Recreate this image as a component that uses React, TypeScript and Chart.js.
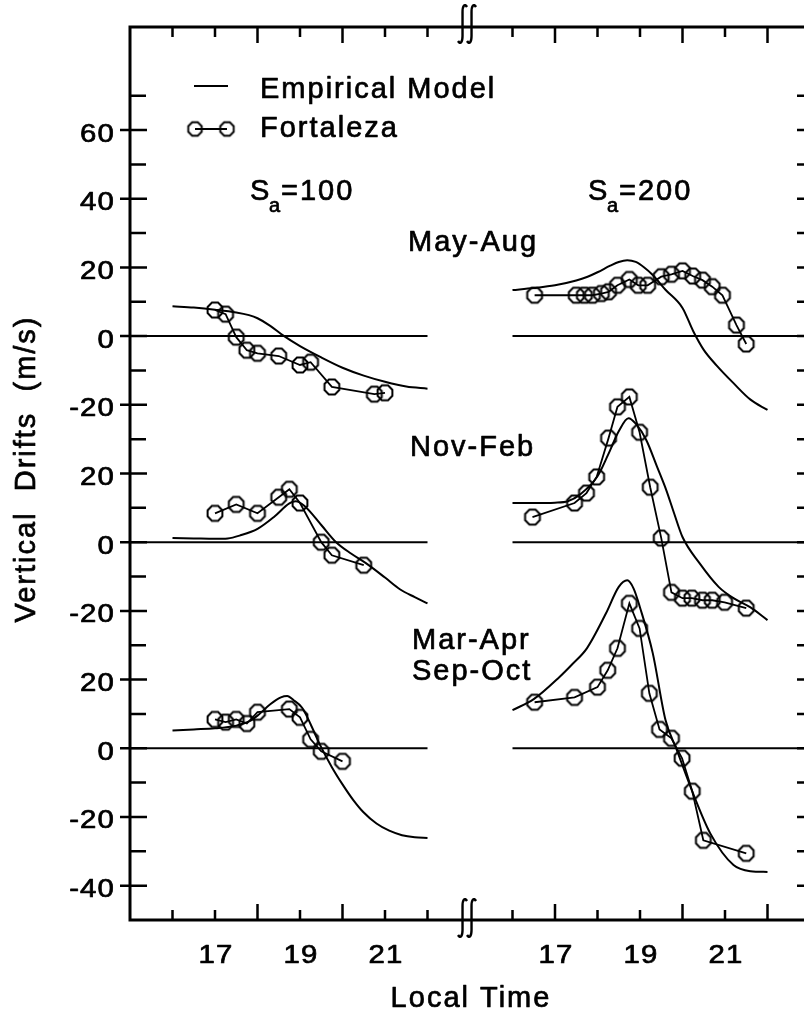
import React, { useEffect, useRef } from "react";
import { Chart, registerables } from "chart.js";
Chart.register(...registerables);

// ---------- data (panel values in m/s, hours in LT) ----------
// stacked panels share one vertical axis; each panel is shifted by an offset
const offsetTop = 120; // May-Aug
const offsetMid = 60; // Nov-Feb
const offsetBot = 0; // Mar-Apr / Sep-Oct
const rightHourShift = 8; // S_a=200 block sits 8 h to the right of the S_a=100 block

// May-Aug, Sa=100
const mayAug100ModelHours = [16, 16.5, 17, 17.5, 17.8, 18, 18.3, 18.6, 19, 19.5, 20, 20.5, 21, 21.5, 22];
const mayAug100ModelValues = [8.7, 8.3, 7.7, 6.9, 6.1, 5.2, 3.0, 0.2, -2.9, -6.2, -9.2, -11.5, -13.3, -14.7, -15.3];
const mayAug100ObsHours = [17, 17.25, 17.5, 17.75, 18, 18.5, 19, 19.25, 19.75, 20.75, 21];
const mayAug100ObsValues = [7.6, 6.4, -0.3, -4.1, -5.0, -5.8, -8.4, -7.6, -14.8, -16.9, -16.5];

// Nov-Feb, Sa=100
const novFeb100ModelHours = [16, 16.5, 17, 17.3, 17.6, 18, 18.4, 18.75, 18.9, 19.1, 19.5, 19.85, 20.2, 20.55, 21, 21.35, 21.7, 22];
const novFeb100ModelValues = [1.2, 1.1, 1.0, 1.1, 2.0, 3.9, 7.5, 11.3, 11.9, 10.6, 5.0, 0, -3.3, -6.1, -10.3, -13.7, -16.0, -17.8];
const novFeb100ObsHours = [17, 17.5, 18, 18.5, 18.75, 19, 19.5, 19.75, 20.5];
const novFeb100ObsValues = [8.4, 11.0, 8.4, 13.1, 15.4, 11.4, 0, -3.8, -6.7];

// Mar-Apr / Sep-Oct, Sa=100
const equinox100ModelHours = [16, 16.5, 17, 17.5, 17.8, 18, 18.3, 18.55, 18.7, 18.85, 19.05, 19.25, 19.45, 19.75, 20, 20.25, 20.5, 20.8, 21.1, 21.4, 21.7, 22];
const equinox100ModelValues = [5.2, 5.5, 5.8, 6.6, 7.8, 9.5, 12.8, 14.8, 15.2, 14.0, 11.8, 7.0, 1.5, -5.5, -10.5, -15.0, -18.7, -21.9, -24.0, -25.3, -25.9, -26.1];
const equinox100ObsHours = [17, 17.25, 17.5, 17.75, 18, 18.75, 19, 19.25, 19.5, 20];
const equinox100ObsValues = [8.4, 7.6, 8.4, 7.2, 10.5, 11.4, 9.0, 2.6, -0.9, -3.8];

// May-Aug, Sa=200
const mayAug200ModelHours = [16, 16.5, 17, 17.5, 17.75, 18, 18.3, 18.5, 18.7, 18.9, 19.1, 19.3, 19.6, 20, 20.25, 20.5, 20.8, 21.2, 21.6, 22];
const mayAug200ModelValues = [13.4, 14.0, 14.8, 16.2, 17.2, 18.6, 20.5, 21.6, 22.1, 21.6, 20.0, 17.8, 13.5, 8.2, 1.5, -4.0, -8.5, -13.7, -18.5, -21.5];
const mayAug200ObsHours = [16.52, 17.5, 17.69, 17.88, 18.09, 18.26, 18.47, 18.75, 18.96, 19.18, 19.5, 19.74, 20.0, 20.24, 20.47, 20.7, 20.94, 21.27, 21.5];
const mayAug200ObsValues = [11.9, 11.9, 11.9, 11.9, 12.4, 12.9, 14.8, 16.5, 14.8, 14.8, 17.3, 18.0, 19.0, 17.5, 16.3, 14.4, 11.9, 3.2, -2.3];

// Nov-Feb, Sa=200
const novFeb200ModelHours = [16, 16.5, 17, 17.3, 17.6, 18, 18.25, 18.5, 18.73, 18.9, 19.15, 19.4, 19.62, 19.8, 20, 20.4, 20.85, 21.2, 21.6, 22];
const novFeb200ModelValues = [11.4, 11.4, 11.5, 11.9, 14.0, 19.2, 25.5, 32.3, 36.1, 34.5, 29.7, 22.0, 15.1, 8.5, 1.5, -6.1, -13.0, -16.3, -19.0, -22.7];
const novFeb200ObsHours = [16.47, 17.46, 17.74, 17.98, 18.26, 18.47, 18.75, 18.99, 19.24, 19.5, 19.74, 20.0, 20.22, 20.47, 20.7, 20.99, 21.5];
const novFeb200ObsValues = [7.3, 11.4, 14.3, 19.0, 30.3, 39.4, 42.3, 32.0, 16.0, 1.2, -14.6, -16.3, -16.3, -16.9, -16.9, -17.5, -19.2];

// Mar-Apr / Sep-Oct, Sa=200
const equinox200ModelHours = [16, 16.5, 17.1, 17.4, 17.75, 18.2, 18.5, 18.7, 18.85, 19, 19.3, 19.6, 19.85, 20.25, 20.65, 21.2, 21.6, 22];
const equinox200ModelValues = [11.1, 14.3, 20.7, 24.4, 29.1, 39.3, 47.0, 48.9, 46.5, 41.0, 27.7, 8.2, 0, -13.2, -24.7, -34.0, -35.8, -36.0];
const equinox200ObsHours = [16.52, 17.46, 18.0, 18.24, 18.47, 18.75, 18.99, 19.22, 19.46, 19.74, 19.99, 20.23, 20.49, 21.5];
const equinox200ObsValues = [13.4, 14.8, 17.8, 22.7, 29.1, 42.2, 34.9, 16.0, 5.5, 2.9, -2.9, -12.5, -26.8, -30.6];

// ---------- axis ticks ----------
const xMin = 15;
const xMax = 31;
const yMin = -50;
const yMax = 210;
const tickHours = [16, 17, 18, 19, 20, 21, 22];
const leftLongTickHours = [18, 20];
const rightLongTickHours = [17, 20, 22];
const labelHours = [17, 19, 21];
const yLabelPositions = [-40, -20, 0, 20, 40, 60, 80, 100, 120, 140, 160, 180];
const yMinorPositions = [-30, -10, 10, 30, 50, 70, 90, 110, 130, 150, 170, 190];
const yRightTickPositions = [-40, -30, -20, -10, 0, 10, 20, 30, 40, 50, 60, 70, 80, 90, 100, 110, 120, 130, 140, 150, 160, 170, 180, 190];
const breakHour = 22.93;

const FONT = '"Liberation Sans", Arial, Helvetica, sans-serif';

function panelLabel(u: number): string {
  if (u >= 100) return String(u - offsetTop);
  if (u >= 40) return String(u - offsetMid);
  return String(u - offsetBot);
}

function makeOctagon(r: number, lw: number): HTMLCanvasElement {
  const size = Math.ceil(2 * r + lw + 2);
  const c = document.createElement("canvas");
  c.width = size;
  c.height = size;
  const g = c.getContext("2d")!;
  g.strokeStyle = "#000";
  g.lineWidth = lw;
  g.beginPath();
  for (let i = 0; i < 8; i++) {
    const a = Math.PI / 8 + (i * Math.PI) / 4;
    const px = size / 2 + r * Math.cos(a);
    const py = size / 2 + r * Math.sin(a);
    if (i === 0) g.moveTo(px, py);
    else g.lineTo(px, py);
  }
  g.closePath();
  g.stroke();
  return c;
}

function pts(hours: number[], vals: number[], hShift: number, vOff: number) {
  return hours.map((h, i) => ({ x: h + hShift, y: vals[i] + vOff }));
}

export default function App() {
  const ref = useRef<HTMLCanvasElement | null>(null);
  useEffect(() => {
    const canvas = ref.current!;
    const oct = makeOctagon(8, 2);
    const octSmall = makeOctagon(7.3, 1.9);

    const modelDs = (data: any[]) => ({
      type: "line" as const,
      data,
      borderColor: "#000",
      borderWidth: 2,
      pointRadius: 0,
      cubicInterpolationMode: "monotone" as const,
      fill: false,
    });
    const obsDs = (data: any[]) => ({
      type: "line" as const,
      data,
      borderColor: "#000",
      borderWidth: 1.8,
      pointStyle: oct as any,
      pointRadius: 8,
      tension: 0,
      fill: false,
    });
    const zeroDs = (x0: number, x1: number, y: number) => ({
      type: "line" as const,
      data: [
        { x: x0, y },
        { x: x1, y },
      ],
      borderColor: "#000",
      borderWidth: 2,
      pointRadius: 0,
      fill: false,
    });

    const datasets: any[] = [
      obsDs(pts(mayAug100ObsHours, mayAug100ObsValues, 0, offsetTop)),
      obsDs(pts(novFeb100ObsHours, novFeb100ObsValues, 0, offsetMid)),
      obsDs(pts(equinox100ObsHours, equinox100ObsValues, 0, offsetBot)),
      obsDs(pts(mayAug200ObsHours, mayAug200ObsValues, rightHourShift, offsetTop)),
      obsDs(pts(novFeb200ObsHours, novFeb200ObsValues, rightHourShift, offsetMid)),
      obsDs(pts(equinox200ObsHours, equinox200ObsValues, rightHourShift, offsetBot)),
      modelDs(pts(mayAug100ModelHours, mayAug100ModelValues, 0, offsetTop)),
      modelDs(pts(novFeb100ModelHours, novFeb100ModelValues, 0, offsetMid)),
      modelDs(pts(equinox100ModelHours, equinox100ModelValues, 0, offsetBot)),
      modelDs(pts(mayAug200ModelHours, mayAug200ModelValues, rightHourShift, offsetTop)),
      modelDs(pts(novFeb200ModelHours, novFeb200ModelValues, rightHourShift, offsetMid)),
      modelDs(pts(equinox200ModelHours, equinox200ModelValues, rightHourShift, offsetBot)),
      zeroDs(xMin, 22, offsetTop),
      zeroDs(xMin, 22, offsetMid),
      zeroDs(xMin, 22, offsetBot),
      zeroDs(24, xMax, offsetTop),
      zeroDs(24, xMax, offsetMid),
      zeroDs(24, xMax, offsetBot),
    ];

    const decor = {
      id: "decor",
      afterDatasetsDraw(chart: any) {
        const { ctx, chartArea: a } = chart;
        const xs = chart.scales.x;
        const ys = chart.scales.y;
        ctx.save();
        ctx.strokeStyle = "#000";
        ctx.fillStyle = "#000";
        ctx.lineCap = "butt";

        // frame
        ctx.lineWidth = 3;
        ctx.beginPath();
        ctx.moveTo(a.left, a.top - 1.5);
        ctx.lineTo(a.left, a.bottom + 1.5);
        ctx.moveTo(a.left - 1.5, a.top);
        ctx.lineTo(a.right, a.top);
        ctx.moveTo(a.left - 1.5, a.bottom);
        ctx.lineTo(a.right, a.bottom);
        ctx.moveTo(a.right, a.top);
        ctx.lineTo(a.right, a.bottom);
        ctx.stroke();

        // y ticks
        ctx.lineWidth = 2.5;
        ctx.beginPath();
        for (const u of yLabelPositions) {
          const py = ys.getPixelForValue(u);
          ctx.moveTo(a.left - 10, py);
          ctx.lineTo(a.left + 17, py);
        }
        for (const u of yMinorPositions) {
          const py = ys.getPixelForValue(u);
          ctx.moveTo(a.left, py);
          ctx.lineTo(a.left + 16, py);
        }
        for (const u of yRightTickPositions) {
          const py = ys.getPixelForValue(u);
          ctx.moveTo(a.right - 13, py);
          ctx.lineTo(a.right, py);
        }
        ctx.stroke();

        // x ticks (top and bottom)
        ctx.beginPath();
        const blocks = [
          { shift: 0, long: leftLongTickHours },
          { shift: rightHourShift, long: rightLongTickHours },
        ];
        for (const b of blocks) {
          for (const h of tickHours) {
            const px = xs.getPixelForValue(h + b.shift);
            const len = b.long.includes(h) ? 16 : 10;
            ctx.moveTo(px, a.top);
            ctx.lineTo(px, a.top + len);
            ctx.moveTo(px, a.bottom);
            ctx.lineTo(px, a.bottom - len);
          }
        }
        ctx.stroke();

        // axis break marks
        const bx = xs.getPixelForValue(breakHour);
        ctx.lineWidth = 2.4;
        for (const cy of [a.top - 3, a.bottom - 2]) {
          for (const dx of [-4.5, 4.5]) {
            const cx = bx + dx;
            ctx.beginPath();
            ctx.moveTo(cx + 4.5, cy - 17);
            ctx.bezierCurveTo(cx + 2, cy - 21, cx, cy - 18, cx, cy - 12);
            ctx.lineTo(cx, cy + 12);
            ctx.bezierCurveTo(cx, cy + 18, cx - 2, cy + 21, cx - 4.5, cy + 17);
            ctx.stroke();
          }
        }

        const txt = (
          s: string,
          x: number,
          y: number,
          size: number,
          align: CanvasTextAlign = "left",
          sp = 2,
          sx = 1
        ) => {
          ctx.save();
          ctx.font = `${size}px ${FONT}`;
          (ctx as any).letterSpacing = `${sp}px`;
          ctx.textAlign = align;
          ctx.textBaseline = "alphabetic";
          ctx.translate(x, y);
          ctx.scale(sx, 1);
          ctx.lineWidth = 0.7;
          ctx.lineJoin = "round";
          ctx.fillText(s, 0, 0);
          ctx.strokeText(s, 0, 0);
          ctx.restore();
        };

        // y tick labels
        for (const u of yLabelPositions) {
          const py = ys.getPixelForValue(u);
          txt(panelLabel(u), a.left - 15, py + 11.5, 25.5, "right", 1, 1.15);
        }
        // x tick labels
        for (const b of blocks) {
          for (const h of labelHours) {
            const px = xs.getPixelForValue(h + b.shift);
            txt(String(h), px + 1, 963, 25.5, "center", 1, 1.15);
          }
        }

        // axis titles
        txt("Local Time", 471, 1007, 29, "center", 2);
        ctx.save();
        ctx.translate(35, 469);
        ctx.rotate(-Math.PI / 2);
        txt("Vertical  Drifts  (m/s)", 0, 0, 29, "center", 2);
        ctx.restore();

        // legend
        ctx.lineWidth = 2;
        ctx.beginPath();
        ctx.moveTo(194, 86);
        ctx.lineTo(228, 86);
        ctx.moveTo(195, 129);
        ctx.lineTo(227, 129);
        ctx.stroke();
        ctx.drawImage(octSmall, 195 - octSmall.width / 2, 129 - octSmall.height / 2);
        ctx.drawImage(octSmall, 227 - octSmall.width / 2, 129 - octSmall.height / 2);
        txt("Empirical Model", 260, 98, 29, "left", 2);
        txt("Fortaleza", 260, 137, 29, "left", 2);

        // S_a labels
        const sa = (x: number, val: string) => {
          txt("S", x, 200, 29, "left", 2);
          txt("a", x + 19, 212, 20, "left", 0);
          txt("=" + val, x + 31, 200, 29, "left", 2);
        };
        sa(250, "100");
        sa(588, "200");

        // season labels
        txt("May-Aug", 408, 251, 29, "left", 2);
        txt("Nov-Feb", 410, 456, 29, "left", 2);
        txt("Mar-Apr", 412, 649, 29, "left", 2);
        txt("Sep-Oct", 412, 680, 29, "left", 2);

        ctx.restore();
      },
    };

    const chart = new Chart(canvas, {
      type: "line",
      data: { datasets },
      options: {
        animation: false,
        responsive: false,
        devicePixelRatio: 1,
        layout: { padding: { left: 130, top: 27, right: 10, bottom: 96 } },
        plugins: { legend: { display: false }, tooltip: { enabled: false } },
        scales: {
          x: { type: "linear", min: xMin, max: xMax, display: false },
          y: { type: "linear", min: yMin, max: yMax, display: false },
        },
      },
      plugins: [decor],
    } as any);
    return () => chart.destroy();
  }, []);

  return (
    <div
      style={{
        position: "fixed",
        left: 0,
        top: 0,
        width: 804,
        height: 1016,
        overflow: "hidden",
        background: "#fff",
      }}
    >
      <canvas ref={ref} width={820} height={1016} style={{ display: "block" }} />
    </div>
  );
}
